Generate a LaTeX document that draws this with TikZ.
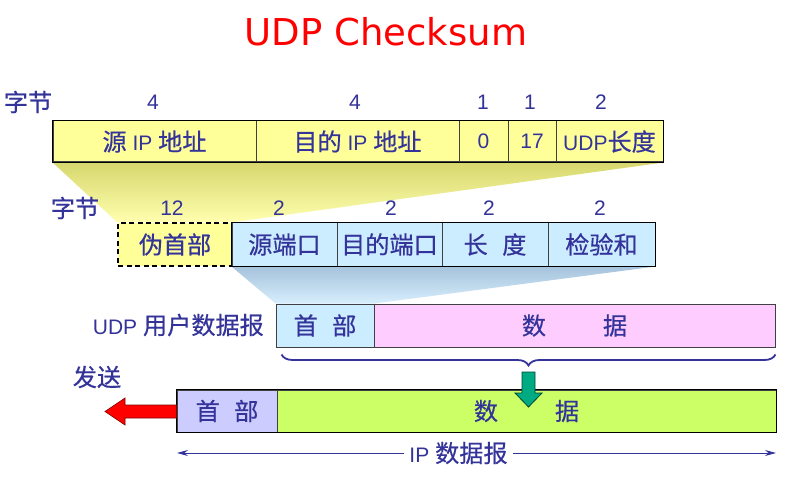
\documentclass[tikz,border=0pt]{standalone}
\usepackage{fontspec}
\setmainfont{Liberation Sans}
\newfontfamily\cjk[Scale=1.15,FakeBold=0.5]{Noto Sans CJK SC}
\newfontfamily\titlefont{DejaVu Sans}
\usetikzlibrary{decorations.pathreplacing,arrows.meta}
\definecolor{txt}{RGB}{51,51,153}
\definecolor{yel}{RGB}{255,255,153}
\definecolor{lblue}{RGB}{204,236,255}
\definecolor{pink}{RGB}{255,204,255}
\definecolor{lav}{RGB}{204,204,255}
\definecolor{lime}{RGB}{204,255,102}
\definecolor{teal}{RGB}{0,170,130}
\pgfdeclarelayer{background}
\pgfsetlayers{background,main}
\begin{document}
\begin{tikzpicture}[x=1pt,y=-1pt,
  every node/.style={font=\fontsize{21}{23}\selectfont, text=txt},
  cell/.style={draw=black!75, line width=1pt, inner sep=0pt},
  rowa/.style={cell, fill=yel, minimum height=41pt},
  rowb/.style={cell, fill=lblue, minimum height=43pt},
  rowc/.style={cell, minimum height=43pt},
  rowd/.style={cell, minimum height=42pt},
  lbl/.style={inner sep=0pt}]
\useasboundingbox (0,0) rectangle (804,484);

\node[font=\titlefont\fontsize{37}{40}\selectfont, text=red] (title) at (386,32) {UDP Checksum};

% row 1
\node[rowa, minimum width=203pt] (a1) at (154.5,141.5) {{\cjk 源} IP {\cjk 地址}};
\node[rowa, minimum width=203pt] (a2) at (357.5,141.5) {{\cjk 目的} IP {\cjk 地址}};
\node[rowa, minimum width=49pt] (a3) at (483.5,141.5) {0};
\node[rowa, minimum width=48pt] (a4) at (532,141.5) {17};
\node[rowa, minimum width=107pt] (a5) at (609.5,141.5) {UDP{\cjk 长度}};
\draw[black, line width=1.6pt] (a1.north west) rectangle (a5.south east);

\node[lbl] (za) at (28,102) {\cjk 字节};
\node[lbl] (na1) at (153,102) {4};
\node[lbl] (na2) at (355,102) {4};
\node[lbl] (na3) at (483,102) {1};
\node[lbl] (na4) at (530,102) {1};
\node[lbl] (na5) at (601,102) {2};

% row 2
\node[cell, fill=yel, draw=black, line width=1.5pt, dash pattern=on 5pt off 3.5pt, minimum height=43pt, minimum width=114pt] (b1) at (175,244.5) {\cjk 伪首部};
\node[rowb, minimum width=105pt] (b2) at (284.5,244.5) {\cjk 源端口};
\node[rowb, minimum width=105pt] (b3) at (389.5,244.5) {\cjk 目的端口};
\node[rowb, minimum width=106pt] (b4) at (495,244.5) {\cjk 长\hspace{0.6em}度};
\node[rowb, minimum width=107pt] (b5) at (601.5,244.5) {\cjk 检验和};
\draw[black, line width=1.4pt] (b2.north west) rectangle (b5.south east);

\node[lbl] (zb) at (75,208) {\cjk 字节};
\node[lbl] (nb1) at (172,208) {12};
\node[lbl] (nb2) at (279,208) {2};
\node[lbl] (nb3) at (391,208) {2};
\node[lbl] (nb4) at (489,208) {2};
\node[lbl] (nb5) at (600,208) {2};

% row 3
\node[lbl, anchor=east] (udp) at (264,325) {UDP {\cjk 用户数据报}};
\node[rowc, fill=lblue, minimum width=98pt] (c1) at (325,325.5) {\cjk 首\hspace{0.6em}部};
\node[rowc, fill=pink, minimum width=401pt] (c2) at (574.5,325.5) {\cjk 数\hspace{57pt}据};

% brace
\draw[decorate, decoration={brace, mirror, amplitude=11pt}, draw=txt, line width=1.8pt]
  ([shift={(6,7)}]c1.south west) -- ([shift={(0,7)}]c2.south east);

% row 4
\node[rowd, fill=lav, minimum width=100pt] (d1) at (227,411) {\cjk 首\hspace{0.6em}部};
\node[rowd, fill=lime, minimum width=499pt] (d2) at (526.5,411) {\cjk 数\hspace{57pt}据};
\draw[black, line width=1.4pt] (d1.north west) rectangle (d2.south east);

\node[lbl] (send) at (97,377) {\cjk 发送};

% red arrow
\draw[fill=red, draw=red!50!black, line width=0.6pt]
  (d1.west |- 0,405) -- (125,405) -- (125,398) -- (105,411.5) -- (125,425) -- (125,418) -- (d1.west |- 0,418) -- cycle;

% green arrow
\draw[fill=teal, draw=teal!40!black, line width=0.8pt]
  (522,372) -- (535,372) -- (535,393) -- (542,393) -- (528.5,407) -- (515,393) -- (522,393) -- cycle;

% IP datagram arrow
\coordinate (ipL) at (177,453);
\coordinate (ipR) at (776,453);
\draw[{Stealth[length=11pt,width=6pt]}-{Stealth[length=11pt,width=6pt]}, draw=txt, line width=1pt]
  (ipL) -- (ipR) node[pos=0.47, fill=white, inner sep=5pt] (ipl) {IP {\cjk 数据报}};

% shaded trapezoids
\begin{pgfonlayer}{background}
\fill[white] (0,0) rectangle (804,484);
\shade[top color={rgb,255:red,215;green,215;blue,110}, bottom color={rgb,255:red,255;green,255;blue,175}]
  (a1.south west) -- (a5.south east) -- (b1.north east) -- (b1.north west) -- cycle;
\shade[top color={rgb,255:red,165;green,195;blue,220}, bottom color={rgb,255:red,215;green,238;blue,252}]
  (b2.south west) -- (b5.south east) -- (c1.north east) -- (c1.north west) -- cycle;
\end{pgfonlayer}
\end{tikzpicture}
\end{document}
